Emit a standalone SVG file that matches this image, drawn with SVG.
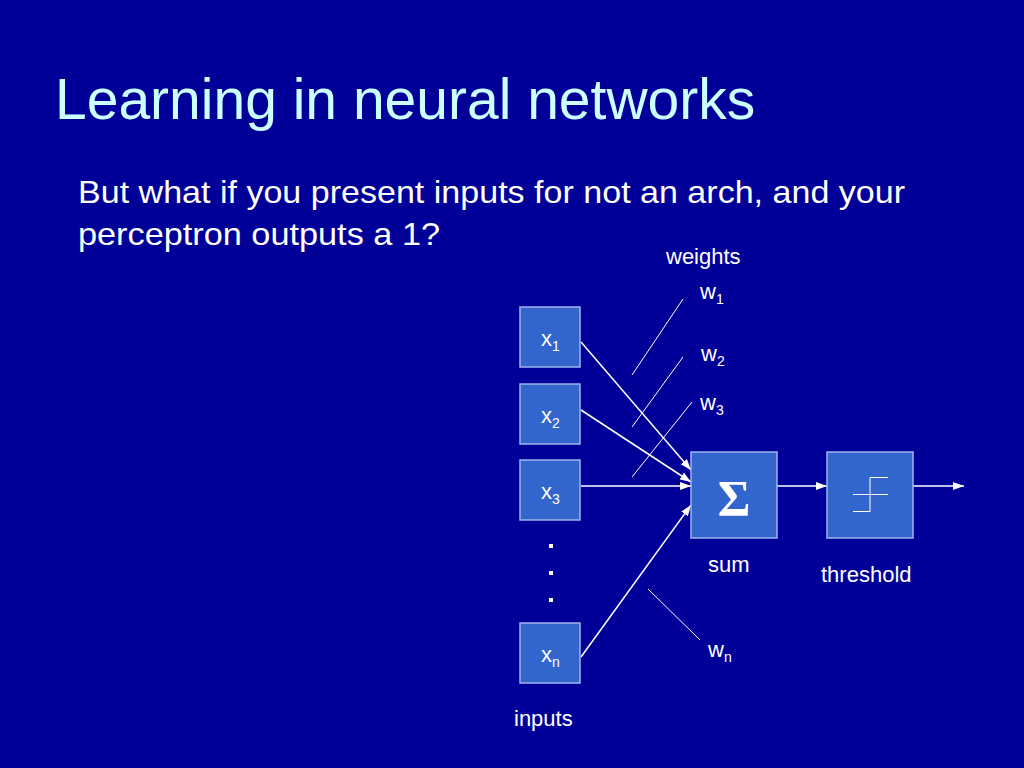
<svg xmlns="http://www.w3.org/2000/svg" width="1024" height="768" viewBox="0 0 1024 768">
<defs>
<style>
text{font-family:"Liberation Sans",Arial,sans-serif;fill:#ffffff}
.title{font-size:57px;fill:#ccffff}
.body{font-size:32px}
.lbl{font-size:22px}
.sub{font-size:14px}
.box{fill:#3366cc;stroke:#a0b4f0;stroke-width:1.5}
.conn{stroke:#ffffff;stroke-width:1.5;fill:none}
.thin{stroke:#ffffff;stroke-width:1;fill:none}
</style>
<marker id="ah" markerWidth="11" markerHeight="8" refX="11" refY="4" orient="auto" markerUnits="userSpaceOnUse">
<path d="M0,0 L11,4 L0,8 Z" fill="#ffffff"/>
</marker>
</defs>
<rect width="1024" height="768" fill="#000099"/>
<text class="title" x="55" y="119">Learning in neural networks</text>
<text class="body" x="78" y="203" textLength="827" lengthAdjust="spacingAndGlyphs">But what if you present inputs for not an arch, and your</text>
<text class="body" x="78" y="245" textLength="362" lengthAdjust="spacingAndGlyphs">perceptron outputs a 1?</text>
<text class="lbl" x="666" y="264">weights</text>
<g id="connectors">
<line class="conn" x1="581" y1="342" x2="691" y2="470" marker-end="url(#ah)"/>
<line class="conn" x1="581" y1="410" x2="691" y2="482" marker-end="url(#ah)"/>
<line class="conn" x1="581" y1="486" x2="691" y2="486" marker-end="url(#ah)"/>
<line class="conn" x1="581" y1="657" x2="691" y2="505" marker-end="url(#ah)"/>
<line class="conn" x1="777" y1="486" x2="827" y2="486" marker-end="url(#ah)"/>
<line class="conn" x1="913" y1="486" x2="964" y2="486" marker-end="url(#ah)"/>
<line class="thin" x1="683" y1="299" x2="632" y2="375"/>
<line class="thin" x1="683" y1="357" x2="632" y2="427"/>
<line class="thin" x1="692" y1="402" x2="632" y2="477"/>
<line class="thin" x1="648" y1="589" x2="700" y2="640"/>
</g>
<g id="x1"><rect class="box" x="520" y="307" width="60" height="60"/><text class="lbl" x="541" y="346">x<tspan class="sub" dy="5">1</tspan></text></g>
<g id="x2"><rect class="box" x="520" y="384" width="60" height="60"/><text class="lbl" x="541" y="423">x<tspan class="sub" dy="5">2</tspan></text></g>
<g id="x3"><rect class="box" x="520" y="460" width="60" height="60"/><text class="lbl" x="541" y="499">x<tspan class="sub" dy="5">3</tspan></text></g>
<g id="dots" fill="#ffffff"><rect x="549" y="544" width="4" height="4"/><rect x="549" y="571" width="4" height="4"/><rect x="549" y="598" width="4" height="4"/></g>
<g id="xn"><rect class="box" x="520" y="623" width="60" height="60"/><text class="lbl" x="541" y="662">x<tspan class="sub" dy="5">n</tspan></text></g>
<text class="lbl" x="514" y="726">inputs</text>
<g id="w1"><text class="lbl" x="700" y="299">w<tspan class="sub" dy="5">1</tspan></text></g>
<g id="w2"><text class="lbl" x="701" y="361">w<tspan class="sub" dy="5">2</tspan></text></g>
<g id="w3"><text class="lbl" x="700" y="410">w<tspan class="sub" dy="5">3</tspan></text></g>
<g id="wn"><text class="lbl" x="708" y="657">w<tspan class="sub" dy="5">n</tspan></text></g>
<g id="sum"><rect class="box" x="691" y="452" width="86" height="86"/><text x="734" y="515" text-anchor="middle" style="font-family:'Liberation Serif','Times New Roman',serif;font-size:50px;font-weight:bold">Σ</text><text class="lbl" x="708" y="572">sum</text></g>
<g id="threshold"><rect class="box" x="827" y="452" width="86" height="86"/><path class="thin" d="M870,477.5 H888 M853,494.5 H888 M853,511.5 H870 M870,477.5 V511.5" stroke="#e8e8ff"/><text class="lbl" x="821" y="582">threshold</text></g>
</svg>
